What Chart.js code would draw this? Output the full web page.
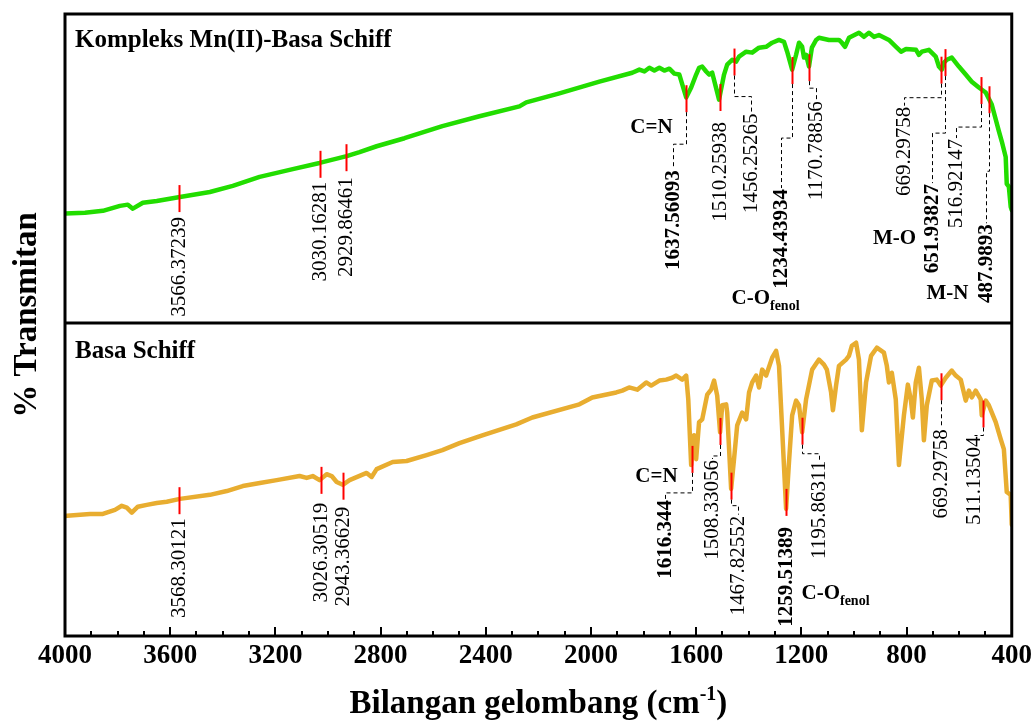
<!DOCTYPE html>
<html>
<head>
<meta charset="utf-8">
<script src="https://cdn.jsdelivr.net/npm/chart.js@4.4.1/dist/chart.umd.min.js"></script>
<style>
html,body{margin:0;padding:0;background:#fff;}
#wrap{width:1036px;height:727px;position:relative;}
</style>
</head>
<body>
<div id="wrap"><canvas id="c" width="1036" height="727"></canvas></div>
<script>
// ---------------- DATA ----------------
const seriesNames = ['Kompleks Mn(II)-Basa Schiff', 'Basa Schiff'];
const xTickValues = [4000, 3600, 3200, 2800, 2400, 2000, 1600, 1200, 800, 400];

const topWavenumbers = [4000,3924,3856,3791,3761,3742,3704,3651,3563,3449,3362,3260,3134,3032,3005,2929,2880,2815,2709,2565,2424,2272,2246,2120,1968,1843,1816,1797,1778,1759,1740,1721,1702,1683,1664,1638,1619,1600,1589,1577,1562,1551,1539,1513,1494,1482,1463,1448,1437,1410,1387,1361,1334,1311,1285,1266,1254,1235,1220,1209,1197,1190,1182,1171,1160,1144,1133,1095,1057,1046,1034,1019,981,962,943,924,905,867,840,821,802,764,753,742,715,689,677,666,658,647,628,601,575,552,525,499,476,449,438,423,419,411,404,400];
const topTransmittance = [35.4,35.7,36.3,37.9,38.3,37.0,38.9,39.5,40.8,42.4,44.4,47.3,49.8,51.8,52.4,54.0,55.3,57.2,59.8,63.7,66.9,70.1,71.4,74.3,78.1,81.0,82.0,81.4,82.6,81.7,82.6,81.7,82.3,80.7,80.4,73.0,76.2,80.4,82.6,83.0,81.4,80.4,81.0,72.3,80.4,83.6,85.2,84.6,86.2,87.8,87.5,89.1,89.4,90.7,91.6,91.0,87.8,82.0,86.8,90.7,89.4,85.9,86.8,83.0,89.1,91.6,92.3,91.6,91.6,90.7,89.4,92.3,93.9,92.6,93.9,92.6,93.2,91.6,89.4,87.8,88.7,88.4,86.8,87.8,88.4,86.2,83.0,82.0,84.2,85.2,85.9,83.0,80.4,78.1,76.2,74.6,70.7,62.1,58.8,53.7,45.0,44.1,37.6,36.5];

const bottomWavenumbers = [4000,3992,3905,3856,3810,3784,3765,3746,3723,3689,3651,3613,3563,3449,3385,3324,3259,3195,3108,3081,3058,3032,3005,2986,2967,2944,2918,2853,2834,2815,2754,2701,2625,2565,2500,2413,2284,2223,2044,1995,1904,1881,1855,1824,1790,1771,1740,1714,1691,1676,1653,1638,1630,1619,1608,1600,1589,1577,1558,1543,1532,1520,1509,1501,1486,1482,1467,1456,1444,1425,1410,1399,1387,1372,1361,1349,1334,1311,1296,1285,1258,1247,1235,1220,1209,1197,1182,1159,1133,1114,1103,1087,1080,1068,1057,1030,1019,1008,992,981,970,954,935,913,886,875,867,856,841,829,810,795,784,776,765,753,742,734,723,704,685,670,651,628,613,594,575,563,552,537,518,514,499,487,461,442,430,419,404,400];
const bottomTransmittance = [38.3,38.4,39.0,39.0,40.3,41.6,41.0,39.4,41.3,41.9,42.5,42.9,43.8,45.1,46.3,47.9,48.9,49.8,51.1,50.5,51.1,49.8,51.7,51.1,49.2,48.3,49.8,52.1,50.8,53.3,55.6,55.9,57.8,59.4,61.6,64.1,67.6,69.8,74.0,76.2,77.8,78.4,79.4,78.7,81.0,80.0,81.6,81.9,82.5,83.2,81.9,83.2,75.6,54.6,64.1,56.5,68.3,69.2,77.1,78.7,81.6,76.8,65.1,73.7,74.0,71.4,47.0,56.5,67.3,71.4,69.2,77.8,81.0,83.2,79.4,85.1,83.2,88.9,91.1,86.3,40.6,55.6,70.5,75.2,73.7,65.1,75.6,85.1,88.3,86.7,85.1,77.8,72.1,80.0,86.3,88.3,89.5,92.7,93.7,88.3,65.7,81.0,89.5,92.1,90.5,86.3,81.0,84.1,75.6,54.6,70.5,80.3,75.6,69.8,81.0,85.7,75.6,62.5,73.7,81.6,81.9,80.0,82.5,84.8,83.2,81.9,75.2,78.4,76.2,78.4,75.6,70.5,75.2,73.7,68.3,62.9,59.7,46.0,45.1,35.6];

const topPeaks = [3566.37239, 3030.16281, 2929.86461, 1637.56093, 1510.25938, 1456.25265, 1234.43934, 1170.78856, 669.29758, 651.93827, 516.92147, 487.9893];
const topPeakLabels = ['3566.37239','3030.16281','2929.86461','1637.56093','1510.25938','1456.25265','1234.43934','1170.78856','669.29758','651.93827','516.92147','487.9893'];
const bottomPeaks = [3568.30121, 3026.30519, 2943.36629, 1616.344, 1508.33056, 1467.82552, 1259.51389, 1195.86311, 669.29758, 511.13504];
const bottomPeakLabels = ['3568.30121','3026.30519','2943.36629','1616.344','1508.33056','1467.82552','1259.51389','1195.86311','669.29758','511.13504'];

const topGroupLabels = ['C=N', 'C-O', 'M-O', 'M-N'];
const bottomGroupLabels = ['C=N', 'C-O'];
const groupSubscript = 'fenol';
const yTitle = '% Transmitan';
const xTitleMain = 'Bilangan gelombang (cm';
const xTitleSup = '-1';
const xTitleEnd = ')';

// ---------------- LAYOUT (annotation placement, pixels) ----------------
const topLeaders = [
  {d1:4, dx:0, d2:0, dash:false, bold:false},
  {d1:3, dx:0, d2:0, dash:false, bold:false},
  {d1:5, dx:0, d2:0, dash:false, bold:false},
  {d1:32, dx:-13, d2:25, dash:true, bold:true},
  {d1:10, dx:0, d2:0, dash:false, bold:false},
  {d1:21, dx:17, d2:16, dash:true, bold:false},
  {d1:54, dx:-11, d2:50, dash:true, bold:true},
  {d1:7, dx:7, d2:12, dash:true, bold:false},
  {d1:14, dx:-37, d2:8, dash:true, bold:false},
  {d1:57, dx:-13, d2:50, dash:true, bold:true},
  {d1:23, dx:-25, d2:11, dash:true, bold:false},
  {d1:58, dx:-3, d2:52, dash:true, bold:true}
];
const bottomLeaders = [
  {d1:3, dx:0, d2:0, dash:false, bold:false},
  {d1:8, dx:0, d2:0, dash:false, bold:false},
  {d1:6, dx:0, d2:0, dash:false, bold:false},
  {d1:20, dx:-27, d2:6, dash:true, bold:true},
  {d1:11, dx:-8, d2:3, dash:true, bold:false},
  {d1:6, dx:7, d2:9, dash:true, bold:false},
  {d1:10, dx:0, d2:0, dash:false, bold:true},
  {d1:9, dx:17, d2:6, dash:true, bold:false},
  {d1:28, dx:0, d2:0, dash:true, bold:false},
  {d1:8, dx:-9, d2:0, dash:true, bold:false}
];
const topGroupPlace = [
  {peak:3, dx:-35, dy:15, align:'center', sub:false},
  {peak:6, dx:-61, dy:220, align:'left', sub:true},
  {peak:9, dx:-51, dy:162, align:'center', sub:false},
  {peak:11, dx:-42, dy:180, align:'center', sub:false}
];
const bottomGroupPlace = [
  {peak:3, dx:-36, dy:4, align:'center', sub:false},
  {peak:6, dx:15, dy:83, align:'left', sub:true}
];

const SERIF = "'Times New Roman', 'Liberation Serif', serif";

function toPoints(xs, ys) { return xs.map((x, i) => ({x: x, y: ys[i]})); }

function interp(xs, ys, w) {
  for (let i = 0; i < xs.length - 1; i++) {
    const a = xs[i], b = xs[i + 1];
    if ((w <= a && w >= b) || (w >= a && w <= b)) {
      const t = (a === b) ? 0 : (w - a) / (b - a);
      return ys[i] + t * (ys[i + 1] - ys[i]);
    }
  }
  return ys[ys.length - 1];
}

const panels = [
  {axis:'yTop', wn:topWavenumbers, tr:topTransmittance, peaks:topPeaks, labels:topPeakLabels, leaders:topLeaders, groups:topGroupLabels, gplace:topGroupPlace, title:seriesNames[0]},
  {axis:'yBot', wn:bottomWavenumbers, tr:bottomTransmittance, peaks:bottomPeaks, labels:bottomPeakLabels, leaders:bottomLeaders, groups:bottomGroupLabels, gplace:bottomGroupPlace, title:seriesNames[1]}
];

const annotPlugin = {
  id: 'ftirAnnot',
  afterDatasetsDraw(chart) {
    const ctx = chart.ctx;
    const xs = chart.scales.x;
    panels.forEach(p => {
      const ys = chart.scales[p.axis];
      const marks = [];
      p.peaks.forEach((w, i) => {
        const v = interp(p.wn, p.tr, w);
        const x = Math.round(xs.getPixelForValue(w)) + 0.5;
        const y = ys.getPixelForValue(v);
        const y0 = y - 12, y1 = y + 15;
        marks.push({x, y1});
        ctx.save();
        ctx.strokeStyle = '#ff0000';
        ctx.lineWidth = 2;
        ctx.beginPath(); ctx.moveTo(x, y0); ctx.lineTo(x, y1); ctx.stroke();
        ctx.restore();
        const L = p.leaders[i];
        const cx = x + L.dx;
        const ty = y1 + L.d1 + L.d2 + 1;
        if (L.dash) {
          ctx.save();
          ctx.strokeStyle = '#000';
          ctx.lineWidth = 1;
          ctx.setLineDash([4, 3]);
          ctx.beginPath();
          ctx.moveTo(x, y1);
          ctx.lineTo(x, y1 + L.d1);
          ctx.lineTo(cx, y1 + L.d1);
          ctx.lineTo(cx, y1 + L.d1 + L.d2);
          ctx.stroke();
          ctx.restore();
        }
        ctx.save();
        ctx.translate(cx, ty);
        ctx.rotate(-Math.PI / 2);
        ctx.fillStyle = '#000';
        ctx.font = (L.bold ? 'bold 21px ' : '21px ') + SERIF;
        ctx.textAlign = 'right';
        ctx.textBaseline = 'middle';
        ctx.fillText(p.labels[i], 0, 0);
        ctx.restore();
      });
      p.gplace.forEach((g, k) => {
        const m = marks[g.peak];
        const gx = m.x + g.dx, gy = m.y1 + g.dy;
        ctx.save();
        ctx.fillStyle = '#000';
        ctx.font = 'bold 21px ' + SERIF;
        if (g.sub) {
          ctx.textAlign = 'left';
          ctx.textBaseline = 'alphabetic';
          ctx.fillText(p.groups[k], gx, gy);
          const w = ctx.measureText(p.groups[k]).width;
          ctx.font = 'bold 14px ' + SERIF;
          ctx.fillText(groupSubscript, gx + w, gy + 6);
        } else {
          ctx.textAlign = g.align;
          ctx.textBaseline = 'middle';
          ctx.fillText(p.groups[k], gx, gy);
        }
        ctx.restore();
      });
    });
  },
  afterDraw(chart) {
    const ctx = chart.ctx;
    const a = chart.chartArea;
    const xs = chart.scales.x;
    const divY = Math.round(chart.scales.yTop.getPixelForValue(0));
    ctx.save();
    ctx.strokeStyle = '#000';
    ctx.lineWidth = 3;
    ctx.strokeRect(a.left, a.top, a.right - a.left, a.bottom - a.top);
    ctx.beginPath(); ctx.moveTo(a.left, divY); ctx.lineTo(a.right, divY); ctx.stroke();
    ctx.lineWidth = 2;
    for (let v = 400; v <= 4000; v += 100) {
      const px = Math.round(xs.getPixelForValue(v));
      const major = xTickValues.includes(v);
      ctx.beginPath();
      ctx.moveTo(px, a.bottom);
      ctx.lineTo(px, a.bottom - (major ? 9 : 5));
      ctx.stroke();
    }
    ctx.fillStyle = '#000';
    ctx.font = 'bold 25px ' + SERIF;
    ctx.textAlign = 'left';
    ctx.textBaseline = 'alphabetic';
    ctx.fillText(panels[0].title, a.left + 10, a.top + 33);
    ctx.fillText(panels[1].title, a.left + 10, divY + 35);
    ctx.save();
    ctx.translate(27, (a.top + a.bottom) / 2 - 10);
    ctx.rotate(-Math.PI / 2);
    ctx.font = 'bold 33px ' + SERIF;
    ctx.textAlign = 'center';
    ctx.textBaseline = 'middle';
    ctx.fillText(yTitle, 0, 0);
    ctx.restore();
    ctx.font = 'bold 33px ' + SERIF;
    const w1 = ctx.measureText(xTitleMain).width;
    const w3 = ctx.measureText(xTitleEnd).width;
    ctx.font = 'bold 20px ' + SERIF;
    const w2 = ctx.measureText(xTitleSup).width;
    const total = w1 + w2 + w3;
    const sx = (a.left + a.right) / 2 - total / 2;
    const by = 713;
    ctx.font = 'bold 33px ' + SERIF;
    ctx.fillText(xTitleMain, sx, by);
    ctx.font = 'bold 20px ' + SERIF;
    ctx.fillText(xTitleSup, sx + w1, by - 13);
    ctx.font = 'bold 33px ' + SERIF;
    ctx.fillText(xTitleEnd, sx + w1 + w2, by);
    ctx.restore();
  }
};

new Chart(document.getElementById('c'), {
  type: 'line',
  data: {
    datasets: [
      {label: seriesNames[0], data: toPoints(topWavenumbers, topTransmittance), yAxisID: 'yTop',
       borderColor: '#22dd00', borderWidth: 4.5, pointRadius: 0, tension: 0, borderJoinStyle: 'round', borderCapStyle: 'round', fill: false},
      {label: seriesNames[1], data: toPoints(bottomWavenumbers, bottomTransmittance), yAxisID: 'yBot',
       borderColor: '#e8ad30', borderWidth: 4.5, pointRadius: 0, tension: 0, borderJoinStyle: 'round', borderCapStyle: 'round', fill: false}
    ]
  },
  options: {
    responsive: false,
    animation: false,
    events: [],
    layout: {padding: {left: 65, right: 23, top: 14, bottom: 50.6}},
    plugins: {legend: {display: false}, tooltip: {enabled: false}},
    scales: {
      x: {
        type: 'linear', reverse: true, min: 400, max: 4000,
        afterBuildTicks: (scale) => { scale.ticks = xTickValues.map(v => ({value: v})); },
        ticks: {autoSkip: false, maxRotation: 0, padding: 4, color: '#000',
                callback: (v) => String(v),
                font: {family: SERIF, size: 27, weight: 'bold'}},
        grid: {display: false, drawTicks: false},
        border: {display: false}
      },
      yTop: {type: 'linear', display: false, min: -101.3, max: 100},
      yBot: {type: 'linear', display: false, min: 0, max: 198.7}
    }
  },
  plugins: [annotPlugin]
});
</script>
</body>
</html>
